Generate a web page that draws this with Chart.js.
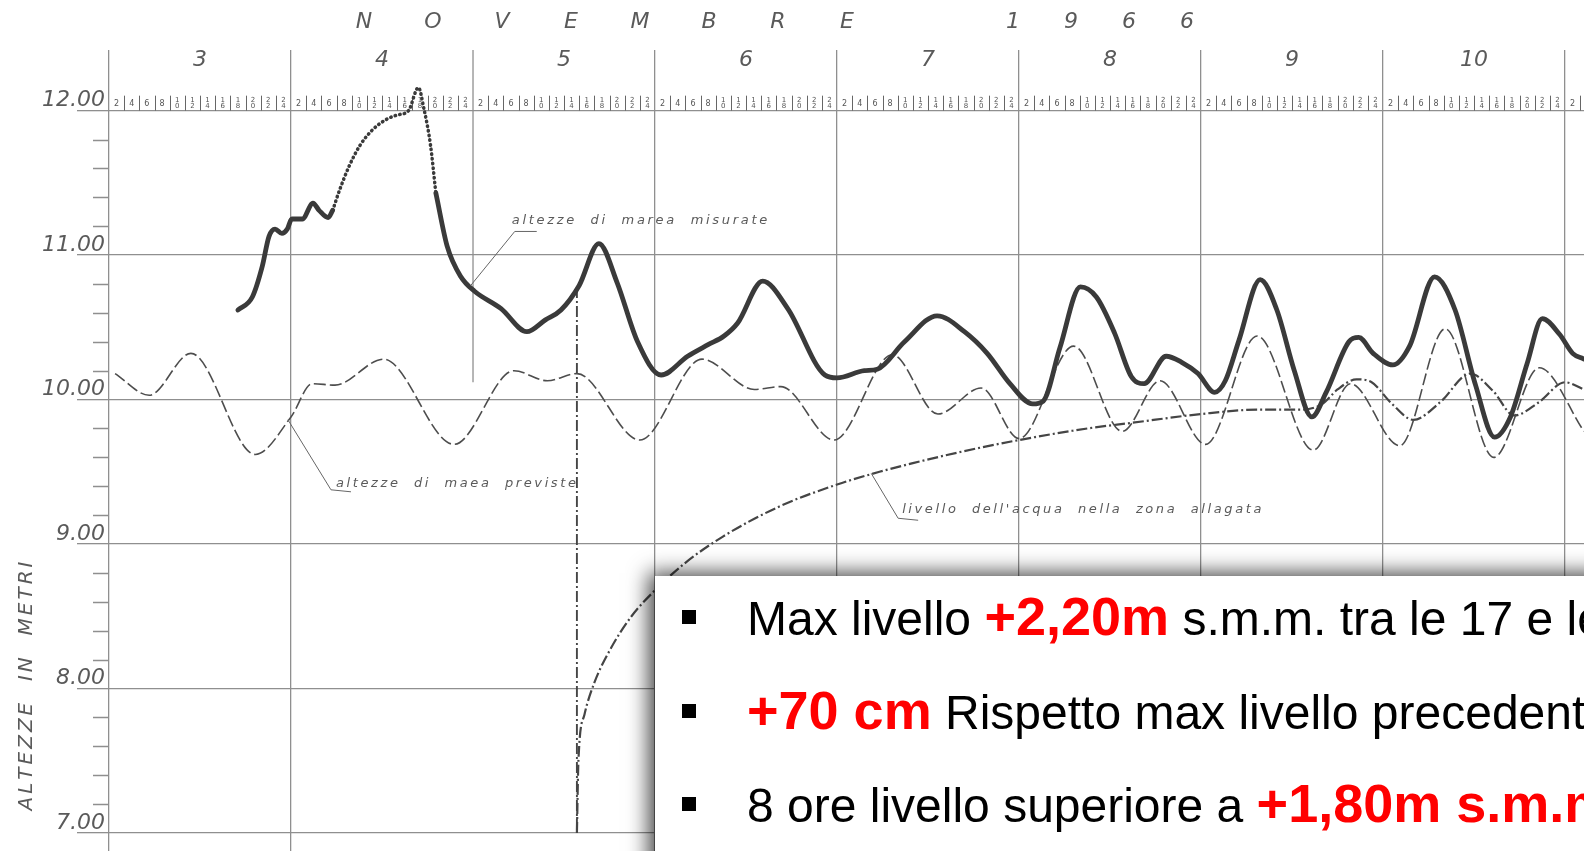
<!DOCTYPE html>
<html>
<head>
<meta charset="utf-8">
<script src="https://cdn.jsdelivr.net/npm/chart.js@4.4.1/dist/chart.umd.min.js"></script>
<style>
  html, body { margin: 0; padding: 0; background: #fff; overflow: hidden; }
  #wrap { position: relative; width: 1584px; height: 851px; }
</style>
</head>
<body>
<div id="wrap"><canvas id="c" width="1584" height="851"></canvas></div>
<script>
// Time axis: hours counted from 00:00 on 3 November 1966; levels in metres.
const monthTitle = 'NOVEMBRE';
const yearTitle = '1966';
const dayLabels = ['3', '4', '5', '6', '7', '8', '9', '10'];
const hourLabels = ['2', '4', '6', '8', '10', '12', '14', '16', '18', '20', '22', '24'];
const levelTicks = [7, 8, 9, 10, 11, 12];
const axisTitle = 'ALTEZZE  IN  METRI';

// Measured tide (solid part before the gap in the record)
const measuredHoursA = [17.0, 18.9, 20.2, 21.1, 21.9, 22.8, 23.5, 24.1, 25.5, 26.9, 27.7, 28.9, 29.5];
const measuredLevelsA = [10.62, 10.71, 10.92, 11.13, 11.18, 11.15, 11.18, 11.25, 11.25, 11.36, 11.31, 11.26, 11.31];
// Measured tide, reconstructed (dotted) around the peak
const measuredHoursB = [29.5, 30.4, 31.7, 33.1, 34.8, 36.6, 38.0, 39.5, 40.8, 41.5, 42.4, 43.1];
const measuredLevelsB = [11.31, 11.45, 11.62, 11.76, 11.87, 11.94, 11.97, 12.0, 12.16, 12.02, 11.76, 11.43];
// Measured tide after the peak
const measuredHoursC = [43.1, 44.6, 46.4, 48.2, 51.7, 55.1, 57.5, 59.6, 62.0, 64.6, 67.0, 69.7, 72.8, 76.3, 79.0, 81.1, 82.9, 86.2, 89.5, 94.4, 96.0, 99.6, 101.3, 104.9, 109.2, 112.8, 115.8, 118.8, 121.8, 123.2, 125.4, 128.1, 130.2, 132.6, 134.8, 136.5, 139.4, 141.4, 143.6, 145.8, 147.2, 149.0, 151.8, 154.0, 156.3, 158.6, 160.5, 163.5, 164.8, 166.7, 169.3, 171.5, 174.8, 177.5, 180.2, 182.7, 184.8, 187.0, 189.0, 191.3, 193.0, 194.5];
const measuredLevelsC = [11.43, 11.06, 10.85, 10.75, 10.63, 10.47, 10.55, 10.62, 10.79, 11.08, 10.81, 10.40, 10.17, 10.30, 10.38, 10.44, 10.53, 10.82, 10.63, 10.17, 10.15, 10.20, 10.21, 10.40, 10.58, 10.47, 10.32, 10.11, 9.97, 9.99, 10.36, 10.78, 10.71, 10.46, 10.16, 10.11, 10.30, 10.26, 10.18, 10.05, 10.13, 10.41, 10.83, 10.62, 10.20, 9.88, 10.05, 10.40, 10.43, 10.32, 10.24, 10.37, 10.85, 10.62, 10.10, 9.74, 9.88, 10.25, 10.56, 10.45, 10.32, 10.28];

// Predicted astronomical tide
const predictedHours = [0.8, 5.3, 10.8, 19.3, 24.0, 26.8, 29.8, 36.2, 45.5, 53.4, 57.8, 61.7, 70.0, 78.2, 85.1, 88.6, 95.6, 103.3, 109.3, 115.0, 120.0, 127.2, 133.6, 138.6, 144.6, 151.4, 158.8, 163.7, 170.2, 176.2, 182.6, 188.6, 194.5];
const predictedLevels = [10.18, 10.03, 10.32, 9.62, 9.88, 10.11, 10.10, 10.28, 9.69, 10.20, 10.13, 10.18, 9.72, 10.28, 10.07, 10.09, 9.72, 10.31, 9.90, 10.08, 9.73, 10.37, 9.78, 10.13, 9.69, 10.44, 9.65, 10.11, 9.68, 10.49, 9.60, 10.22, 9.78];

// Water level in the flooded zone
const floodOnsetHours = [61.7, 61.7];
const floodOnsetLevels = [10.78, 7.0];
const floodHours = [61.7, 61.9, 62.7, 64.0, 66.2, 68.9, 72.0, 76.0, 80.9, 88.4, 95.9, 101.6, 106.0, 112.5, 120.0, 129.0, 135.0, 144.0, 151.5, 157.0, 160.0, 162.0, 164.5, 166.5, 169.0, 172.0, 175.5, 179.5, 182.5, 185.3, 188.5, 192.0, 194.5];
const floodLevels = [7.00, 7.50, 7.82, 8.04, 8.28, 8.50, 8.68, 8.87, 9.05, 9.26, 9.41, 9.50, 9.56, 9.64, 9.72, 9.80, 9.84, 9.90, 9.93, 9.93, 9.97, 10.07, 10.14, 10.12, 9.98, 9.86, 9.98, 10.18, 10.06, 9.89, 9.98, 10.12, 10.07];

// Series captions
const measuredCaption = 'altezze  di  marea  misurate';
const predictedCaption = 'altezze  di  maea  previste';
const floodCaption = "livello  dell'acqua  nella  zona  allagata";

// Notes panel: runs of [text, emphasis]
const noteLines = [
  [['Max livello ', false], ['+2,20m', true], [' s.m.m. tra le 17 e le', false]],
  [['+70 cm', true], [' Rispetto max livello precedente', false]],
  [['8 ore livello superiore a ', false], ['+1,80m s.m.m.', true]]
];

const GRID = '#8f8f8f';
const INK = '#5a5a5a';
const pts = (xs, ys) => xs.map((h, i) => ({ x: h, y: ys[i] }));
const lettering = (size, weight) => `italic ${weight || 'normal'} ${size}px "DejaVu Sans", sans-serif`;

function spacedText(ctx, text, x, y, spacing, align) {
  let w = 0;
  for (const ch of text) w += ctx.measureText(ch).width + spacing;
  w -= spacing;
  let cx = align === 'center' ? x - w / 2 : x;
  ctx.textAlign = 'left';
  for (const ch of text) {
    ctx.fillText(ch, cx, y);
    cx += ctx.measureText(ch).width + spacing;
  }
}

const decor = {
  id: 'decor',
  beforeDatasetsDraw(chart) {
    const { ctx, chartArea: a, scales: { x, y } } = chart;
    ctx.save();
    ctx.strokeStyle = GRID;
    ctx.lineWidth = 1.3;
    // day-5 line, drawn only in the upper band
    const x5 = x.getPixelForValue(48);
    ctx.beginPath();
    ctx.moveTo(x5, a.top);
    ctx.lineTo(x5, y.getPixelForValue(10.12));
    ctx.stroke();
    // minor level ticks every 0.20 m
    ctx.beginPath();
    for (let k = 35; k <= 60; k++) {
      if (k % 5 === 0) continue;
      const py = Math.round(y.getPixelForValue(k / 5)) + 0.5;
      ctx.moveTo(a.left - 16, py);
      ctx.lineTo(a.left, py);
    }
    ctx.stroke();
    // hour strip above the 12.00 line
    const base = y.getPixelForValue(12);
    ctx.lineWidth = 1;
    ctx.strokeStyle = '#666';
    ctx.beginPath();
    for (let h = 2; h < x.max; h += 2) {
      if (h % 24 === 0) continue;
      const px = Math.round(x.getPixelForValue(h)) + 0.5;
      ctx.moveTo(px, base - 15);
      ctx.lineTo(px, base);
    }
    ctx.stroke();
    ctx.fillStyle = '#555';
    ctx.textBaseline = 'middle';
    ctx.textAlign = 'center';
    for (let h = 0; h + 1.5 < x.max; h += 2) {
      const lab = hourLabels[(h / 2) % 12];
      const cx = x.getPixelForValue(h + 1);
      if (lab.length === 1) {
        ctx.font = '8px "DejaVu Sans"';
        ctx.fillText(lab, cx, base - 7);
      } else {
        ctx.font = '7px "DejaVu Sans"';
        ctx.fillText(lab[0], cx, base - 10.5);
        ctx.fillText(lab[1], cx, base - 4);
      }
    }
    ctx.restore();
  },
  afterDraw(chart) {
    const { ctx, scales: { x, y } } = chart;
    ctx.save();
    ctx.fillStyle = INK;
    ctx.textBaseline = 'middle';

    // month and year heading
    ctx.font = lettering(22);
    [...monthTitle].forEach((ch, i) => { ctx.textAlign = 'center'; ctx.fillText(ch, 364 + 69 * i, 22); });
    [...yearTitle].forEach((ch, i) => { ctx.textAlign = 'center'; ctx.fillText(ch, 1013 + 58 * i, 22); });

    // day numbers centred in each day
    dayLabels.forEach((d, i) => {
      ctx.textAlign = 'center';
      ctx.fillText(d, x.getPixelForValue(12 + 24 * i), 60);
    });

    // vertical axis title
    ctx.save();
    ctx.translate(27, 686);
    ctx.rotate(-Math.PI / 2);
    ctx.font = lettering(20);
    spacedText(ctx, axisTitle, 0, 0, 3, 'center');
    ctx.restore();

    // captions with leader lines
    ctx.strokeStyle = '#666';
    ctx.lineWidth = 1;
    ctx.font = lettering(13);
    ctx.textBaseline = 'alphabetic';
    const leader = (ax, ay, bx, by, cx, cy) => {
      ctx.beginPath(); ctx.moveTo(ax, ay); ctx.lineTo(bx, by); ctx.lineTo(cx, cy); ctx.stroke();
    };
    let ax = x.getPixelForValue(47.7), ay = y.getPixelForValue(10.79);
    leader(ax, ay, ax + 44, ay - 54, ax + 66, ay - 54);
    spacedText(ctx, measuredCaption, ax + 41, ay - 61, 2.7, 'left');

    ax = x.getPixelForValue(23.6); ay = y.getPixelForValue(9.86);
    leader(ax, ay, ax + 43, ay + 70, ax + 63, ay + 72);
    spacedText(ctx, predictedCaption, ax + 48, ay + 67, 2.6, 'left');

    ax = x.getPixelForValue(100.5); ay = y.getPixelForValue(9.49);
    leader(ax, ay, ax + 27, ay + 45, ax + 47, ay + 47);
    spacedText(ctx, floodCaption, ax + 31, ay + 40, 2.6, 'left');

    // notes panel
    ctx.save();
    ctx.shadowColor = 'rgba(0,0,0,0.75)';
    ctx.shadowBlur = 20;
    ctx.shadowOffsetX = -6;
    ctx.shadowOffsetY = -3;
    ctx.fillStyle = '#fff';
    ctx.fillRect(655, 576, 1000, 400);
    ctx.restore();

    const baselines = [635, 729, 822];
    noteLines.forEach((runs, i) => {
      const by = baselines[i];
      ctx.fillStyle = '#000';
      ctx.fillRect(682, by - 25, 14, 14);
      let cx = 747;
      ctx.textAlign = 'left';
      ctx.textBaseline = 'alphabetic';
      runs.forEach(([t, strong]) => {
        ctx.font = strong ? 'bold 54px "Liberation Sans", Arial, sans-serif' : '48px "Liberation Sans", Arial, sans-serif';
        ctx.fillStyle = strong ? '#ff0000' : '#000';
        ctx.fillText(t, cx, by);
        cx += ctx.measureText(t).width;
      });
    });
    ctx.restore();
  }
};

new Chart(document.getElementById('c'), {
  type: 'line',
  data: {
    datasets: [
      { data: pts(measuredHoursA, measuredLevelsA), borderColor: '#3a3a3a', borderWidth: 4.8, cubicInterpolationMode: 'monotone', borderCapStyle: 'round', borderJoinStyle: 'round' },
      { data: pts(measuredHoursB, measuredLevelsB), borderColor: '#3a3a3a', borderWidth: 3.5, borderDash: [0.5, 4.2], borderCapStyle: 'round', cubicInterpolationMode: 'monotone' },
      { data: pts(measuredHoursC, measuredLevelsC), borderColor: '#3a3a3a', borderWidth: 4.8, cubicInterpolationMode: 'monotone', borderCapStyle: 'round', borderJoinStyle: 'round' },
      { data: pts(predictedHours, predictedLevels), borderColor: '#4d4d4d', borderWidth: 1.6, borderDash: [12, 4], cubicInterpolationMode: 'monotone' },
      { data: pts(floodOnsetHours, floodOnsetLevels), borderColor: '#454545', borderWidth: 1.9, borderDash: [11, 3, 2, 3], tension: 0 },
      { data: pts(floodHours, floodLevels), borderColor: '#454545', borderWidth: 2.2, borderDash: [11, 3, 2, 3], cubicInterpolationMode: 'monotone' }
    ]
  },
  options: {
    responsive: false,
    animation: false,
    devicePixelRatio: 1,
    layout: { padding: { top: 50, left: 0, right: 0, bottom: 0 } },
    elements: { point: { radius: 0 } },
    plugins: { legend: { display: false }, tooltip: { enabled: false } },
    scales: {
      x: {
        type: 'linear', min: 0, max: 194.5, position: 'bottom',
        afterBuildTicks: s => { s.ticks = dayLabels.map((d, i) => ({ value: 24 * i })).concat([{ value: 192 }]); },
        afterFit: s => { s.height = 0; },
        ticks: { display: false },
        grid: { color: c => (c.tick && c.tick.value === 48) ? 'rgba(0,0,0,0)' : GRID, lineWidth: 1.3, drawTicks: false },
        border: { display: false }
      },
      y: {
        type: 'linear', min: 6.875, max: 12.42,
        afterBuildTicks: s => { s.ticks = levelTicks.map(v => ({ value: v })); },
        afterFit: s => { s.width = 109; },
        ticks: {
          callback: v => Number(v).toFixed(2),
          padding: -28, labelOffset: -10, color: INK,
          font: { family: 'DejaVu Sans', size: 22, style: 'italic', weight: 'normal' }
        },
        grid: { color: GRID, lineWidth: 1.3, tickLength: 32, drawTicks: true },
        border: { display: false }
      }
    }
  },
  plugins: [decor]
});
</script>
</body>
</html>
